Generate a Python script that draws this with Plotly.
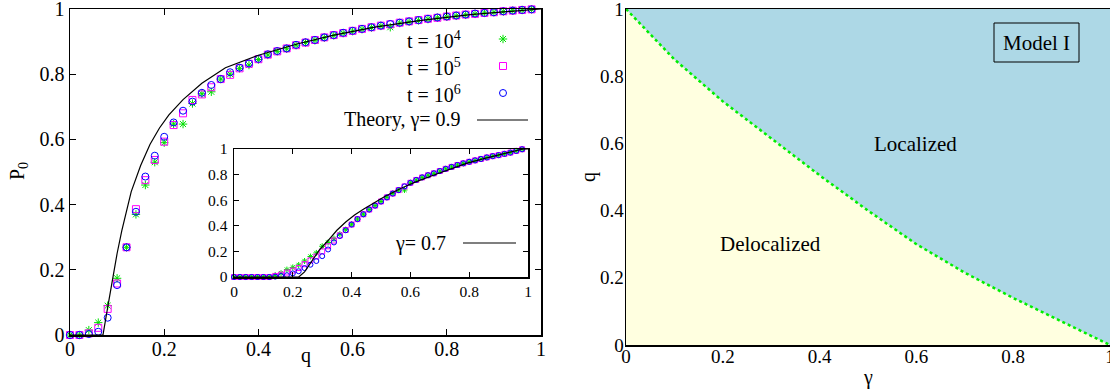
import plotly.graph_objects as go

W, H = 1110, 391
FONT = "Liberation Serif, Times New Roman, serif"

# ---------------- data ----------------
q_grid = [round(0.02 * i, 2) for i in range(50)]

p0_t1e4 = [0, 0, 0.015, 0.038, 0.090, 0.174, 0.269, 0.370, 0.460, 0.530,
           0.590, 0.647, 0.647, 0.710, 0.740, 0.746, 0.785, 0.800, 0.818, 0.828,
           0.845, 0.859, 0.870, 0.878, 0.889, 0.897, 0.904, 0.912, 0.919, 0.926,
           0.932, 0.938, 0.943, 0.948, 0.944, 0.957, 0.961, 0.965, 0.969, 0.973,
           0.976, 0.979, 0.982, 0.985, 0.988, 0.990, 0.992, 0.995, 0.997, 0.999]
p0_t1e5 = [0, 0, 0.005, 0.022, 0.080, 0.158, 0.269, 0.386, 0.475, 0.537,
           0.593, 0.644, 0.680, 0.721, 0.738, 0.760, 0.785, 0.798, 0.818, 0.832,
           0.846, 0.860, 0.870, 0.879, 0.889, 0.897, 0.905, 0.913, 0.920, 0.926,
           0.933, 0.939, 0.944, 0.949, 0.953, 0.958, 0.962, 0.966, 0.970, 0.973,
           0.977, 0.980, 0.983, 0.985, 0.988, 0.990, 0.993, 0.995, 0.997, 0.999]
p0_t1e6 = [0, 0, 0.003, 0.010, 0.053, 0.153, 0.269, 0.378, 0.486, 0.550,
           0.608, 0.652, 0.688, 0.716, 0.743, 0.767, 0.785, 0.806, 0.820, 0.833,
           0.847, 0.861, 0.871, 0.879, 0.890, 0.898, 0.905, 0.913, 0.920, 0.927,
           0.933, 0.939, 0.944, 0.949, 0.954, 0.958, 0.962, 0.966, 0.970, 0.974,
           0.977, 0.980, 0.983, 0.986, 0.988, 0.990, 0.993, 0.995, 0.997, 0.999]

theory_q_09 = [0, 0.07, 0.08, 0.09, 0.10, 0.11, 0.12, 0.13, 0.15, 0.17, 0.19,
               0.21, 0.24, 0.28, 0.33, 0.40, 0.48, 0.56, 0.65, 0.75, 0.85, 0.93, 1.0]
theory_p_09 = [0, 0, 0.085, 0.17, 0.25, 0.32, 0.385, 0.44, 0.52, 0.585, 0.635,
               0.675, 0.722, 0.772, 0.82, 0.858, 0.892, 0.92, 0.945, 0.966, 0.983, 0.993, 1.0]

# inset (gamma = 0.7)
p0in_t1e4 = [0, 0, 0, 0, 0, 0, 0, 0.015, 0.030, 0.058,
             0.075, 0.094, 0.125, 0.160, 0.188, 0.240, 0.270, 0.300, 0.335, 0.370,
             0.412, 0.452, 0.490, 0.527, 0.558, 0.590, 0.622, 0.652, 0.679, 0.680,
             0.736, 0.758, 0.778, 0.795, 0.810, 0.828, 0.845, 0.860, 0.875, 0.888,
             0.900, 0.911, 0.922, 0.934, 0.944, 0.952, 0.962, 0.972, 0.985, 0.998]
p0in_t1e5 = [0, 0, 0, 0, 0, 0, 0, 0.008, 0.018, 0.035,
             0.050, 0.070, 0.100, 0.130, 0.160, 0.200, 0.240, 0.285, 0.325, 0.367,
             0.410, 0.452, 0.490, 0.527, 0.558, 0.590, 0.622, 0.652, 0.679, 0.708,
             0.736, 0.758, 0.778, 0.795, 0.810, 0.828, 0.845, 0.860, 0.875, 0.888,
             0.900, 0.911, 0.922, 0.934, 0.944, 0.952, 0.962, 0.972, 0.985, 0.998]
p0in_t1e6 = [0, 0, 0, 0, 0, 0, 0, 0.003, 0.008, 0.014,
             0.028, 0.045, 0.070, 0.096, 0.125, 0.163, 0.215, 0.270, 0.320, 0.365,
             0.410, 0.452, 0.490, 0.527, 0.558, 0.590, 0.622, 0.652, 0.679, 0.708,
             0.736, 0.758, 0.778, 0.795, 0.810, 0.828, 0.845, 0.860, 0.875, 0.888,
             0.900, 0.911, 0.922, 0.934, 0.944, 0.952, 0.962, 0.972, 0.985, 0.998]

theory_q_07 = [0, 0.22, 0.24, 0.263, 0.29, 0.32, 0.35, 0.38, 0.41, 0.44, 0.47,
               0.51, 0.565, 0.62, 0.68, 0.74, 0.79, 0.85, 0.91, 0.98, 1.0]
theory_p_07 = [0, 0, 0.04, 0.115, 0.21, 0.285, 0.365, 0.43, 0.485, 0.53, 0.57,
               0.625, 0.69, 0.745, 0.797, 0.845, 0.888, 0.925, 0.958, 0.998, 1.0]

# phase diagram boundary
gamma_b = [0, 0.1, 0.2, 0.3, 0.4, 0.5, 0.6, 0.7, 0.8, 0.9, 1.0]
q_b = [1, 0.85, 0.725, 0.615, 0.505, 0.40, 0.30, 0.215, 0.14, 0.07, 0]

ticks = [0, 0.2, 0.4, 0.6, 0.8, 1]
tick_text = ["0", "0.2", "0.4", "0.6", "0.8", "1"]

series_names = ["t = 10<sup>4</sup>", "t = 10<sup>5</sup>", "t = 10<sup>6</sup>"]
series_colors = ["#00e000", "#ff00ff", "#0000ff"]
series_symbols = ["asterisk-open", "square-open", "circle-open"]


def px(x):
    return x / W


def py(y):
    return 1 - y / H


def f(size):
    return dict(family=FONT, size=size, color="black")


fig = go.Figure()

main_series = [p0_t1e4, p0_t1e5, p0_t1e6]
inset_series = [p0in_t1e4, p0in_t1e5, p0in_t1e6]

for vals, col, sym in zip(main_series, series_colors, series_symbols):
    fig.add_trace(go.Scatter(x=q_grid, y=vals, mode="markers", xaxis="x", yaxis="y",
                             marker=dict(symbol=sym, size=7, color=col,
                                         line=dict(color=col, width=1)),
                             showlegend=False, cliponaxis=False))
fig.add_trace(go.Scatter(x=theory_q_09, y=theory_p_09, mode="lines", xaxis="x", yaxis="y",
                         line=dict(color="black", width=1.2), showlegend=False))

for vals, col, sym in zip(inset_series, series_colors, series_symbols):
    fig.add_trace(go.Scatter(x=q_grid, y=vals, mode="markers", xaxis="x2", yaxis="y2",
                             marker=dict(symbol=sym, size=5, color=col,
                                         line=dict(color=col, width=1)),
                             showlegend=False, cliponaxis=False))
fig.add_trace(go.Scatter(x=theory_q_07, y=theory_p_07, mode="lines", xaxis="x2", yaxis="y2",
                         line=dict(color="black", width=1.2), showlegend=False))

# phase diagram
fig.add_trace(go.Scatter(x=gamma_b, y=q_b, mode="lines", xaxis="x3", yaxis="y3",
                         fill="tozeroy", fillcolor="#ffffe0",
                         line=dict(color="#00ee00", width=2.5, dash="dot"),
                         showlegend=False))

# legend keys (separate full-figure axes in pixel space)
key_y = [39, 66, 93]
for yk, col, sym in zip(key_y, series_colors, series_symbols):
    fig.add_trace(go.Scatter(x=[503], y=[yk], mode="markers", xaxis="x4", yaxis="y4",
                             marker=dict(symbol=sym, size=7, color=col,
                                         line=dict(color=col, width=1)),
                             showlegend=False))

axis_common = dict(showgrid=False, zeroline=False, showline=True, linecolor="black",
                   linewidth=1.5, mirror="allticks", ticks="inside", ticklen=6,
                   tickcolor="black", tickvals=ticks, ticktext=tick_text,
                   range=[0, 1], automargin=False, ticklabeloverflow="allow")

plain_axis = dict(showgrid=False, zeroline=False, showline=True, linecolor="black",
                  linewidth=1.5, mirror=True, ticks="", tickvals=ticks, ticktext=tick_text,
                  range=[0, 1], automargin=False, ticklabeloverflow="allow",
                  tickfont=f(19))

fig.update_layout(
    width=W, height=H, margin=dict(l=0, r=0, t=0, b=0),
    template="none",
    paper_bgcolor="white", plot_bgcolor="rgba(0,0,0,0)",
    font=f(20),
    xaxis=dict(axis_common, domain=[px(70), px(541)], anchor="y", tickfont=f(20),
               ticklabelstandoff=-5),
    yaxis=dict(axis_common, domain=[py(335), py(9)], anchor="x", tickfont=f(20)),
    xaxis2=dict(axis_common, domain=[px(234), px(528)], anchor="y2",
                tickfont=f(15.5), ticklen=5),
    yaxis2=dict(axis_common, domain=[py(277), py(149)], anchor="x2",
                tickfont=f(15.5), ticklen=5, ticklabelstandoff=2),
    xaxis3=dict(plain_axis, domain=[px(626), px(1110)], anchor="y3",
                ticklabelstandoff=-6),
    yaxis3=dict(plain_axis, domain=[py(345), py(9)], anchor="x3",
                ticklabelstandoff=-3),
    xaxis4=dict(domain=[0, 1], range=[0, W], visible=False, anchor="y4",
                automargin=False, fixedrange=True),
    yaxis4=dict(domain=[0, 1], range=[H, 0], visible=False, anchor="x4",
                automargin=False, fixedrange=True),
)

# blue (localized) background of phase diagram
fig.add_shape(type="rect", xref="x3 domain", yref="y3 domain", x0=0, x1=1, y0=0, y1=1,
              fillcolor="#add8e6", line=dict(width=0), layer="below")

# legend line samples
fig.add_shape(type="line", xref="paper", yref="paper", x0=px(477), x1=px(528),
              y0=py(120), y1=py(120), line=dict(color="black", width=1.2))
fig.add_shape(type="line", xref="paper", yref="paper", x0=px(463), x1=px(516),
              y0=py(243), y1=py(243), line=dict(color="black", width=1.2))
# Model I box
fig.add_shape(type="rect", xref="paper", yref="paper", x0=px(994), x1=px(1079),
              y0=py(62), y1=py(23), line=dict(color="black", width=1))

ann = []
for name, yk in zip(series_names, key_y):
    ann.append(dict(text=name, x=px(463), y=py(yk + 1), xanchor="right", yanchor="middle", font=f(20)))
ann.append(dict(text="Theory, γ= 0.9", x=px(463), y=py(120), xanchor="right", yanchor="middle", font=f(20)))
ann.append(dict(text="γ= 0.7", x=px(448), y=py(243), xanchor="right", yanchor="middle", font=f(20)))
ann.append(dict(text="Localized", x=px(915), y=py(144), xanchor="center", yanchor="middle", font=f(21)))
ann.append(dict(text="Delocalized", x=px(770), y=py(244), xanchor="center", yanchor="middle", font=f(21)))
ann.append(dict(text="Model I", x=px(1036.5), y=py(42.5), xanchor="center", yanchor="middle", font=f(21)))
ann.append(dict(text="P<sub>0</sub>", x=px(18), y=py(171), xanchor="center", yanchor="middle", textangle=-90, font=f(20)))
ann.append(dict(text="q", x=px(306), y=py(355), xanchor="center", yanchor="middle", font=f(20)))
ann.append(dict(text="q", x=px(588), y=py(177), xanchor="center", yanchor="middle", textangle=-90, font=f(20)))
ann.append(dict(text="γ", x=px(868), y=py(377), xanchor="center", yanchor="middle", font=f(20)))
for a in ann:
    a.update(xref="paper", yref="paper", showarrow=False)
    fig.add_annotation(**a)

fig.write_html("out.html", config={"displayModeBar": False, "staticPlot": True},
               post_script="document.body.style.margin='0px';")
